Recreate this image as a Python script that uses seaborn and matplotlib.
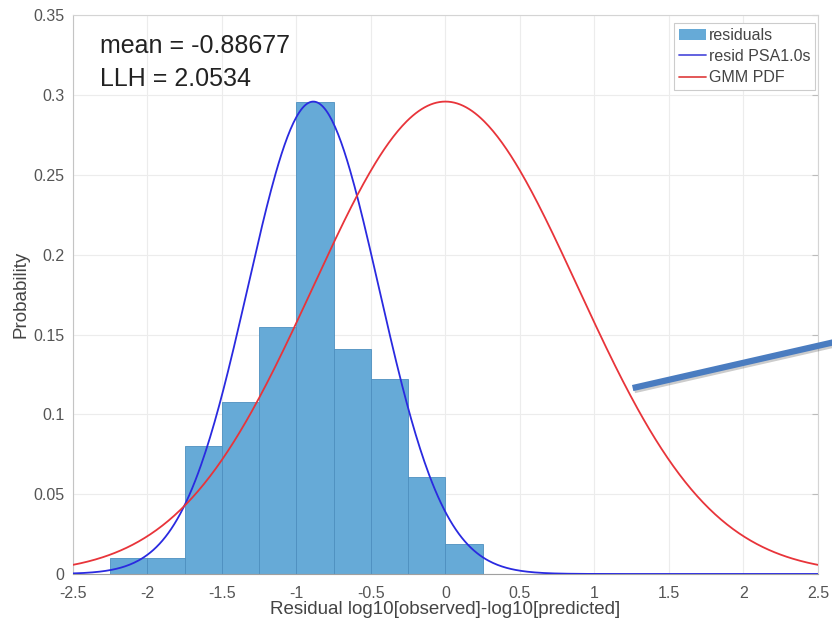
import numpy as np
import pandas as pd
import matplotlib
matplotlib.use("Agg")
import matplotlib.pyplot as plt
import seaborn as sns
from matplotlib.ticker import FixedLocator, FuncFormatter
from matplotlib.patches import Patch
from matplotlib.lines import Line2D
import matplotlib.patheffects as pe

# ---- data ----
bin_edges = [-2.25, -2.0, -1.75, -1.5, -1.25, -1.0, -0.75, -0.5, -0.25, 0.0, 0.25]
bin_probs = [0.010, 0.010, 0.080, 0.108, 0.155, 0.296, 0.141, 0.122, 0.061, 0.019]

resid_mean = -0.88677
resid_sigma = 0.44
resid_peak = 0.296

gmm_mean = 0.0
gmm_sigma = 0.89
gmm_peak = 0.296

llh = 2.0534

x_ticks = [-2.5, -2, -1.5, -1, -0.5, 0, 0.5, 1, 1.5, 2, 2.5]
y_ticks = [0, 0.05, 0.1, 0.15, 0.2, 0.25, 0.3, 0.35]

arrow_start = (1.257, 0.1165)
arrow_end = (2.62, 0.1455)

# ---- build tables ----
centers = [(a + b) / 2 for a, b in zip(bin_edges[:-1], bin_edges[1:])]
hist_df = pd.DataFrame({"x": centers, "w": bin_probs})

xs = np.linspace(-2.5, 2.5, 501)
curve_df = pd.DataFrame({
    "x": np.concatenate([xs, xs]),
    "y": np.concatenate([
        resid_peak * np.exp(-(xs - resid_mean) ** 2 / (2 * resid_sigma ** 2)),
        gmm_peak * np.exp(-(xs - gmm_mean) ** 2 / (2 * gmm_sigma ** 2)),
    ]),
    "series": ["resid PSA1.0s"] * len(xs) + ["GMM PDF"] * len(xs),
})

sns.set_style("white")
plt.rcParams["font.family"] = ["Liberation Sans", "DejaVu Sans"]

fig = plt.figure(figsize=(8.32, 6.26), dpi=100)
ax = fig.add_axes([0.0877, 0.0831, 0.8953, 0.8923])

hist_color = "#66AAD7"
sns.histplot(data=hist_df, x="x", weights="w", bins=bin_edges, stat="count",
             color=hist_color, alpha=1.0, edgecolor="#4d8fbf", linewidth=0.6,
             ax=ax, zorder=2)

sns.lineplot(data=curve_df, x="x", y="y", hue="series",
             palette={"resid PSA1.0s": "#2a2ae0", "GMM PDF": "#e8343a"},
             linewidth=1.3, ax=ax, legend=False, zorder=3)

ax.set_xlim(-2.5, 2.5)
ax.set_ylim(0, 0.35)
ax.xaxis.set_major_locator(FixedLocator(x_ticks))
ax.yaxis.set_major_locator(FixedLocator(y_ticks))
fmt = FuncFormatter(lambda v, p: ("%g" % v))
ax.xaxis.set_major_formatter(fmt)
ax.yaxis.set_major_formatter(fmt)

ax.grid(True, color="#ececec", linewidth=0.8, zorder=0)
ax.set_axisbelow(True)
for s in ax.spines.values():
    s.set_color("#d4d4d4")
    s.set_linewidth(0.8)
ax.spines["bottom"].set_color("#a0a0a0")
ax.spines["left"].set_color("#c4c4c4")
ax.tick_params(axis="both", direction="in", length=4, color="#bbbbbb",
               labelsize=11.5, labelcolor="#555555", top=False, right=True)
ax.tick_params(axis="x", pad=9)
ax.tick_params(axis="y", pad=6)

ax.set_xlabel("Residual log10[observed]-log10[predicted]", fontsize=13.5,
              color="#444444", labelpad=0)
ax.set_ylabel("Probability", fontsize=13.5, color="#444444", labelpad=3)

ax.text(0.036, 0.946, "mean = %.5f" % resid_mean, transform=ax.transAxes,
        fontsize=18, color="#222222", va="center", ha="left")
ax.text(0.036, 0.886, "LLH = %.4f" % llh, transform=ax.transAxes,
        fontsize=18, color="#222222", va="center", ha="left")

handles = [Patch(facecolor=hist_color, edgecolor="none", label="residuals"),
           Line2D([0], [0], color="#5555dd", lw=1.3, label="resid PSA1.0s"),
           Line2D([0], [0], color="#e04a4a", lw=1.3, label="GMM PDF")]
leg = ax.legend(handles=handles, loc="upper right", fontsize=11.5,
                frameon=True, fancybox=False, framealpha=1,
                edgecolor="#cccccc", borderpad=0.3, labelspacing=0.38,
                handlelength=1.7, handletextpad=0.15, borderaxespad=0,
                bbox_to_anchor=(0.996, 0.986))
leg.get_frame().set_linewidth(0.8)
for t in leg.get_texts():
    t.set_color("#444444")

ax.plot([arrow_start[0], arrow_end[0]], [arrow_start[1], arrow_end[1]],
        color="#4a7cc0", linewidth=4.5, solid_capstyle="butt", clip_on=False,
        zorder=6,
        path_effects=[pe.SimpleLineShadow(offset=(1.2, -1.5), alpha=0.2),
                      pe.Normal()])

fig.savefig("out.png", dpi=100)
